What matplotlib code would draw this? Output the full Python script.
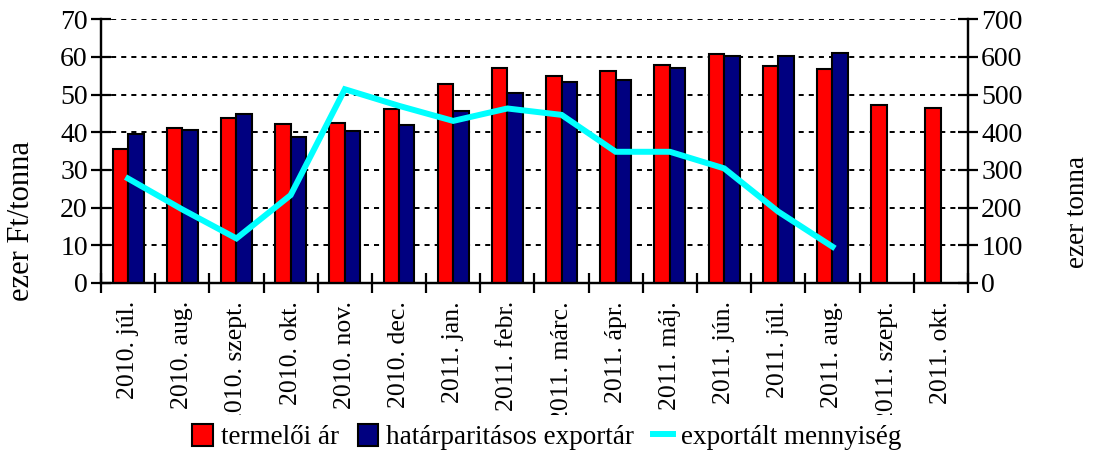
import matplotlib
matplotlib.use("Agg")
import matplotlib.pyplot as plt
import numpy as np
from matplotlib.transforms import Bbox, TransformedBbox
from matplotlib.patches import Patch
from matplotlib.lines import Line2D

plt.rcParams['font.family'] = ['Liberation Serif', 'DejaVu Serif']

# data
months = ['2010. júl.', '2010. aug.', '2010. szept.', '2010. okt.', '2010. nov.',
          '2010. dec.', '2011. jan.', '2011. febr.', '2011. márc.', '2011. ápr.',
          '2011. máj.', '2011. jún.', '2011. júl.', '2011. aug.', '2011. szept.',
          '2011. okt.']
termeloi_ar = [35.5, 41.1, 43.9, 42.3, 42.5, 46.2, 52.8, 57.0, 55.0, 56.3,
               57.8, 60.7, 57.6, 56.8, 47.3, 46.5]
export_ar = [39.5, 40.6, 44.7, 38.8, 40.3, 42.0, 45.6, 50.3, 53.2, 53.9,
             57.0, 60.1, 60.1, 61.0, np.nan, np.nan]
export_menny = [277, 195, 118, 233, 514, 470, 430, 463, 446, 348,
                348, 304, 189, 96]

fig = plt.figure(figsize=(10.93, 4.57), dpi=100)
ax = fig.add_axes([0.0924, 0.381, 0.7932, 0.577])
ax2 = ax.twinx()

x = np.arange(len(months))
w = 0.285
ax.bar(x - w / 2, termeloi_ar, w, color='#ff0000', edgecolor='black', linewidth=1.5, zorder=3)
ax.bar(x + w / 2, export_ar, w, color='#000080', edgecolor='black', linewidth=1.5, zorder=3)

ax.set_ylim(0, 70)
ax.set_xlim(-0.5, len(months) - 0.5)
ax.set_yticks(range(0, 71, 10))
ax.yaxis.grid(True, color='black', linestyle=(0, (2.6, 2.6)), linewidth=1.4, zorder=0)
ax.set_axisbelow(True)

ax2.plot(x[:len(export_menny)], export_menny, color='#00ffff', linewidth=4.3, zorder=5,
         solid_joinstyle='miter')
ax2.set_ylim(0, 700)
ax2.set_yticks(range(0, 701, 100))

ax.set_zorder(ax2.get_zorder() - 1)
ax.patch.set_visible(True)
ax2.patch.set_visible(False)

ax.set_xticks(x)
ax.set_xticklabels(months, rotation=90, fontsize=18.5)
ax.set_xticks(np.arange(-0.5, len(months)), minor=True)
ax.tick_params(axis='x', which='major', length=0, pad=13)
ax.tick_params(axis='x', which='minor', direction='inout', length=15, width=1.6)
ax.tick_params(axis='y', direction='inout', length=15, width=1.6, labelsize=20, pad=2)
ax2.tick_params(axis='y', direction='inout', length=15, width=1.6, labelsize=20, pad=2)

for a in (ax, ax2):
    a.spines['top'].set_visible(False)
    for s in ('left', 'right', 'bottom'):
        a.spines[s].set_linewidth(1.6)

# month labels are cut off at the bottom in the original
clip = TransformedBbox(Bbox([[0, 1 - 415 / 457], [1, 1]]), fig.transFigure)
for t in ax.get_xticklabels():
    t.set_clip_box(clip)
    t.set_clip_on(True)

fig.text(22 / 1093, 1 - 221 / 457, 'ezer Ft/tonna', rotation=90, fontsize=22,
         ha='center', va='center')
fig.text(1077 / 1093, 1 - 212 / 457, 'ezer tonna', rotation=90, fontsize=19.5,
         ha='center', va='center')

handles = [Patch(facecolor='#ff0000', edgecolor='black', linewidth=1.5),
           Patch(facecolor='#000080', edgecolor='black', linewidth=1.5),
           Line2D([], [], color='#00ffff', linewidth=4.3)]
fig.legend(handles, ['termelői ár', 'határparitásos exportár', 'exportált mennyiség'],
           loc='center', bbox_to_anchor=(547 / 1093, 1 - 437 / 457), ncol=3, frameon=False,
           fontsize=19.5, handlelength=0.75, handleheight=0.9, handletextpad=0.3,
           columnspacing=0.7, borderpad=0)

fig.savefig('out.png', dpi=100)
